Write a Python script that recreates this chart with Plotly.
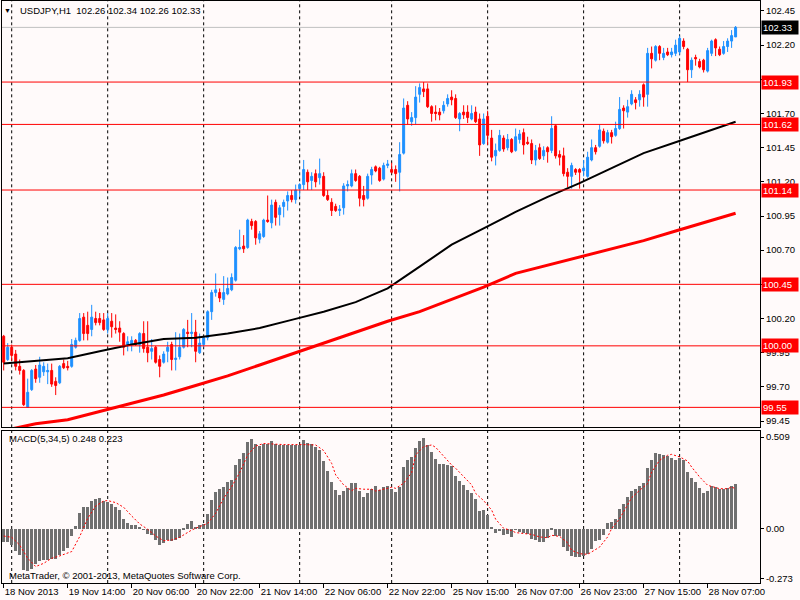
import plotly.graph_objects as go

# USDJPY H1 candles, bar 0 .. bar 183
bars = list(range(184))

open_ = [100.07, 99.90, 99.99, 99.94, 99.85, 99.82, 99.55, 99.68, 99.83, 99.77,
         99.81, 99.81, 99.82, 99.74, 99.73, 99.87, 99.85, 99.85, 99.99, 100.04,
         100.21, 100.15, 100.12, 100.20, 100.20, 100.19, 100.12, 100.18, 100.13, 100.13,
         100.09, 100.01, 100.01, 100.04, 100.01, 100.09, 99.99, 99.96, 99.99, 99.90,
         99.88, 99.96, 100.01, 99.90, 99.92, 99.99, 100.10, 100.09, 100.10, 99.95,
         100.01, 100.06, 100.25, 100.39, 100.39, 100.34, 100.38, 100.41, 100.48, 100.71,
         100.73, 100.72, 100.91, 100.91, 100.78, 100.80, 100.92, 100.90, 101.05, 100.96,
         101.02, 101.06, 101.10, 101.07, 101.15, 101.18, 101.27, 101.21, 101.26, 101.23,
         101.24, 101.10, 101.05, 101.02, 100.99, 101.01, 101.17, 101.17, 101.26, 101.24,
         101.10, 101.08, 101.25, 101.31, 101.30, 101.22, 101.32, 101.29, 101.29, 101.27,
         101.41, 101.76, 101.64, 101.67, 101.84, 101.88, 101.88, 101.75, 101.71, 101.71,
         101.72, 101.77, 101.82, 101.81, 101.66, 101.71, 101.71, 101.66, 101.71, 101.66,
         101.48, 101.68, 101.52, 101.39, 101.43, 101.52, 101.45, 101.51, 101.43, 101.51,
         101.56, 101.49, 101.48, 101.36, 101.45, 101.39, 101.45, 101.43, 101.61, 101.40,
         101.39, 101.27, 101.24, 101.29, 101.29, 101.28, 101.24, 101.36, 101.45, 101.46,
         101.57, 101.49, 101.56, 101.54, 101.59, 101.74, 101.71, 101.77, 101.80, 101.80,
         101.91, 101.84, 102.14, 102.09, 102.19, 102.11, 102.15, 102.13, 102.14, 102.15,
         102.23, 102.17, 102.02, 102.11, 102.08, 102.09, 102.01, 102.14, 102.24, 102.17,
         102.14, 102.19, 102.23, 102.26]

high = [100.08, 100.02, 100.01, 99.97, 99.90, 99.83, 99.76, 99.83, 99.86, 99.92,
        99.88, 99.87, 99.87, 99.77, 99.86, 99.90, 99.89, 100.05, 100.06, 100.24,
        100.24, 100.25, 100.30, 100.25, 100.24, 100.24, 100.24, 100.24, 100.23, 100.18,
        100.10, 100.07, 100.07, 100.05, 100.10, 100.18, 100.18, 100.05, 100.00, 99.93,
        99.96, 100.03, 100.03, 100.10, 100.09, 100.13, 100.19, 100.24, 100.19, 100.09,
        100.07, 100.26, 100.41, 100.53, 100.42, 100.51, 100.50, 100.53, 100.73, 100.85,
        100.81, 100.93, 100.93, 100.92, 100.84, 100.93, 101.10, 101.07, 101.07, 101.03,
        101.07, 101.13, 101.14, 101.18, 101.19, 101.36, 101.29, 101.27, 101.29, 101.37,
        101.27, 101.14, 101.08, 101.04, 101.03, 101.19, 101.21, 101.29, 101.29, 101.25,
        101.17, 101.26, 101.31, 101.32, 101.31, 101.34, 101.36, 101.34, 101.32, 101.49,
        101.81, 101.79, 101.71, 101.90, 101.92, 101.93, 101.92, 101.76, 101.76, 101.74,
        101.79, 101.84, 101.87, 101.84, 101.71, 101.76, 101.76, 101.76, 101.75, 101.70,
        101.70, 101.72, 101.58, 101.48, 101.58, 101.54, 101.55, 101.52, 101.59, 101.58,
        101.59, 101.53, 101.51, 101.47, 101.48, 101.46, 101.46, 101.68, 101.62, 101.43,
        101.45, 101.30, 101.34, 101.30, 101.30, 101.36, 101.42, 101.51, 101.47, 101.62,
        101.59, 101.58, 101.58, 101.64, 101.82, 101.76, 101.80, 101.87, 101.82, 101.87,
        101.92, 102.18, 102.19, 102.20, 102.20, 102.18, 102.18, 102.18, 102.24, 102.27,
        102.25, 102.18, 102.11, 102.13, 102.10, 102.10, 102.18, 102.24, 102.25, 102.19,
        102.23, 102.25, 102.31, 102.34]

low = [99.82, 99.89, 99.89, 99.82, 99.79, 99.56, 99.55, 99.67, 99.73, 99.73,
       99.78, 99.72, 99.70, 99.64, 99.72, 99.83, 99.82, 99.84, 99.98, 100.03,
       100.04, 100.04, 100.07, 100.15, 100.15, 100.11, 100.09, 100.06, 100.09, 100.03,
       99.93, 99.96, 99.96, 100.00, 99.95, 99.95, 99.88, 99.90, 99.87, 99.77,
       99.87, 99.88, 99.82, 99.82, 99.90, 99.98, 99.99, 99.99, 99.88, 99.94,
       99.99, 100.04, 100.19, 100.36, 100.32, 100.30, 100.37, 100.40, 100.47, 100.70,
       100.68, 100.71, 100.85, 100.74, 100.75, 100.79, 100.90, 100.86, 100.88, 100.88,
       100.94, 100.99, 101.05, 101.04, 101.09, 101.14, 101.14, 101.14, 101.16, 101.18,
       101.09, 101.06, 100.95, 100.98, 100.95, 100.96, 101.13, 101.16, 101.20, 101.02,
       101.02, 101.07, 101.18, 101.27, 101.20, 101.21, 101.30, 101.26, 101.20, 101.13,
       101.40, 101.62, 101.61, 101.62, 101.78, 101.82, 101.74, 101.64, 101.65, 101.65,
       101.70, 101.75, 101.76, 101.66, 101.57, 101.66, 101.63, 101.65, 101.63, 101.39,
       101.47, 101.47, 101.35, 101.32, 101.42, 101.42, 101.43, 101.41, 101.42, 101.48,
       101.40, 101.47, 101.33, 101.32, 101.36, 101.36, 101.34, 101.41, 101.37, 101.32,
       101.24, 101.16, 101.15, 101.25, 101.15, 101.24, 101.23, 101.35, 101.40, 101.45,
       101.48, 101.48, 101.48, 101.53, 101.58, 101.59, 101.67, 101.76, 101.73, 101.75,
       101.75, 101.75, 102.03, 102.08, 102.09, 102.09, 102.12, 102.11, 102.12, 102.13,
       102.17, 101.93, 101.96, 102.05, 102.03, 102.00, 102.00, 102.12, 102.12, 102.12,
       102.13, 102.15, 102.18, 102.26]

close = [99.88, 99.99, 99.93, 99.85, 99.82, 99.57, 99.66, 99.82, 99.76, 99.86,
         99.85, 99.82, 99.72, 99.71, 99.85, 99.84, 99.84, 100.01, 100.04, 100.20,
         100.09, 100.09, 100.21, 100.17, 100.17, 100.12, 100.20, 100.14, 100.12, 100.10,
         99.99, 100.03, 100.04, 100.01, 100.09, 99.98, 99.95, 99.98, 99.88, 99.85,
         99.94, 99.99, 99.90, 99.91, 99.99, 100.12, 100.09, 100.10, 99.96, 100.02,
         100.06, 100.25, 100.39, 100.41, 100.35, 100.39, 100.42, 100.50, 100.72, 100.72,
         100.71, 100.92, 100.88, 100.79, 100.82, 100.92, 100.91, 101.03, 100.94, 101.01,
         101.05, 101.10, 101.07, 101.14, 101.18, 101.29, 101.20, 101.24, 101.20, 101.26,
         101.10, 101.07, 100.99, 100.99, 101.00, 101.17, 101.18, 101.26, 101.21, 101.08,
         101.07, 101.24, 101.29, 101.28, 101.21, 101.32, 101.33, 101.27, 101.26, 101.40,
         101.74, 101.66, 101.67, 101.82, 101.89, 101.86, 101.75, 101.70, 101.70, 101.69,
         101.76, 101.81, 101.80, 101.67, 101.70, 101.69, 101.67, 101.70, 101.64, 101.47,
         101.66, 101.54, 101.38, 101.43, 101.54, 101.44, 101.51, 101.42, 101.53, 101.55,
         101.47, 101.48, 101.36, 101.43, 101.37, 101.43, 101.42, 101.59, 101.39, 101.38,
         101.26, 101.24, 101.32, 101.27, 101.27, 101.30, 101.38, 101.45, 101.42, 101.58,
         101.50, 101.56, 101.53, 101.59, 101.73, 101.72, 101.75, 101.84, 101.78, 101.84,
         101.82, 102.14, 102.10, 102.19, 102.14, 102.14, 102.13, 102.15, 102.20, 102.25,
         102.19, 102.02, 102.09, 102.10, 102.04, 102.02, 102.16, 102.23, 102.18, 102.13,
         102.19, 102.23, 102.27, 102.33]

# moving averages
ma_bars = [0, 8, 16, 24, 32, 40, 48, 56, 64, 72, 80, 88, 96, 104, 112, 120,
           128, 136, 144, 152, 160, 168, 176, 183]
ma_black = [99.87, 99.89, 99.91, 99.96, 100.01, 100.05, 100.06, 100.09, 100.13,
            100.19, 100.25, 100.32, 100.42, 100.58, 100.74, 100.86, 100.98,
            101.09, 101.19, 101.30, 101.41, 101.49, 101.57, 101.64]
ma_red = [99.38, 99.43, 99.46, 99.52, 99.58, 99.64, 99.71, 99.78, 99.86, 99.94,
          100.02, 100.10, 100.18, 100.25, 100.34, 100.43, 100.53, 100.59, 100.65,
          100.71, 100.77, 100.84, 100.91, 100.97]

levels = [101.93, 101.62, 101.14, 100.45, 100.00, 99.55]
bid = 102.33

# MACD(5,34,5)
macd = [-0.070, -0.070, -0.089, -0.120, -0.144, -0.227, -0.231, -0.218, -0.190, -0.175,
        -0.172, -0.168, -0.162, -0.162, -0.144, -0.120, -0.101, -0.039, 0.017, 0.090,
        0.124, 0.124, 0.157, 0.168, 0.173, 0.155, 0.151, 0.142, 0.124, 0.105,
        0.059, 0.035, 0.022, 0.022, 0.013, -0.003, -0.024, -0.033, -0.061, -0.089,
        -0.076, -0.061, -0.065, -0.061, -0.046, 0.004, 0.031, 0.046, 0.013, 0.022,
        0.031, 0.083, 0.161, 0.207, 0.225, 0.234, 0.262, 0.271, 0.354, 0.391,
        0.423, 0.482, 0.502, 0.470, 0.459, 0.474, 0.470, 0.487, 0.470, 0.465,
        0.465, 0.465, 0.465, 0.465, 0.465, 0.493, 0.478, 0.470, 0.456, 0.437,
        0.378, 0.323, 0.262, 0.216, 0.188, 0.210, 0.231, 0.256, 0.256, 0.212,
        0.179, 0.201, 0.225, 0.238, 0.220, 0.234, 0.238, 0.225, 0.207, 0.234,
        0.345, 0.382, 0.400, 0.450, 0.487, 0.506, 0.469, 0.428, 0.391, 0.363,
        0.360, 0.354, 0.349, 0.295, 0.268, 0.244, 0.216, 0.201, 0.170, 0.101,
        0.109, 0.077, 0.013, -0.020, -0.011, -0.033, -0.028, -0.042, -0.002, -0.015,
        -0.020, -0.028, -0.055, -0.060, -0.071, -0.072, -0.048, 0.006, -0.035, -0.035,
        -0.100, -0.118, -0.146, -0.151, -0.151, -0.146, -0.137, -0.109, -0.063, -0.059,
        -0.030, 0.033, 0.039, 0.057, 0.113, 0.140, 0.181, 0.214, 0.223, 0.242,
        0.255, 0.339, 0.384, 0.423, 0.417, 0.413, 0.408, 0.395, 0.384, 0.395,
        0.384, 0.315, 0.284, 0.260, 0.229, 0.199, 0.214, 0.242, 0.232, 0.223,
        0.223, 0.229, 0.242, 0.248]

sig_bars = [0, 2, 4, 6, 8, 10, 12, 14, 17, 19, 21, 23, 25, 26, 28, 30, 32, 34, 36, 38,
            40, 42, 44, 47, 49, 51, 53, 55, 57, 59, 61, 63, 65, 70, 75, 78, 80, 82, 83,
            85, 87, 88, 90, 92, 93, 95, 97, 98, 100, 102, 103, 105, 107, 108, 110, 112,
            113, 115, 117, 118, 120, 122, 123, 125, 127, 128, 130, 132, 134, 136, 137,
            139, 141, 142, 144, 146, 147, 149, 151, 152, 154, 156, 157, 159, 161, 162,
            164, 166, 167, 169, 171, 172, 174, 176, 177, 179, 181, 182, 183]
signal = [-0.039, -0.046, -0.089, -0.162, -0.208, -0.190, -0.162, -0.149, -0.125, -0.042,
          0.059, 0.127, 0.155, 0.157, 0.146, 0.120, 0.072, 0.028, -0.002, -0.039,
          -0.065, -0.061, -0.046, -0.006, 0.013, 0.031, 0.087, 0.170, 0.234, 0.312,
          0.410, 0.459, 0.473, 0.467, 0.467, 0.465, 0.434, 0.363, 0.299, 0.244,
          0.212, 0.225, 0.220, 0.220, 0.210, 0.220, 0.231, 0.225, 0.253, 0.312,
          0.410, 0.456, 0.465, 0.452, 0.400, 0.354, 0.336, 0.290, 0.244, 0.197,
          0.157, 0.105, 0.054, 0.004, -0.009, -0.020, -0.024, -0.030, -0.044, -0.048,
          -0.035, -0.041, -0.077, -0.118, -0.137, -0.140, -0.127, -0.100, -0.044, 0.002,
          0.057, 0.131, 0.173, 0.214, 0.251, 0.315, 0.380, 0.408, 0.413, 0.399,
          0.376, 0.343, 0.288, 0.242, 0.236, 0.223, 0.223, 0.232, 0.223]

time_bars = [0, 16, 32, 48, 64, 80, 96, 112, 128, 144, 160, 176]
time_labels = ["18 Nov 2013", "19 Nov 14:00", "20 Nov 06:00", "20 Nov 22:00",
               "21 Nov 14:00", "22 Nov 06:00", "22 Nov 22:00", "25 Nov 15:00",
               "26 Nov 07:00", "26 Nov 23:00", "27 Nov 15:00", "28 Nov 07:00"]
grid_bars = [2, 26, 50, 74, 97, 121, 145, 169]
price_ticks = [99.45, 99.70, 99.95, 100.20, 100.45, 100.70, 100.95, 101.20,
               101.45, 101.70, 101.95, 102.20, 102.45]
# the 100.45 scale label sits exactly under its level box
price_labels = ["" if t == 100.45 else f"{t:.2f}" for t in price_ticks]

BLUE = "#1E90FF"
RED = "#FF0000"
BG = "#FFFAFA"
FONT = "Liberation Sans"

fig = go.Figure()

fig.add_trace(go.Scatter(x=ma_bars, y=ma_red, mode="lines",
                         line=dict(color=RED, width=3), xaxis="x", yaxis="y"))
fig.add_trace(go.Scatter(x=ma_bars, y=ma_black, mode="lines",
                         line=dict(color="black", width=2), xaxis="x", yaxis="y"))
fig.add_trace(go.Candlestick(
    x=bars, open=open_, high=high, low=low, close=close,
    increasing=dict(line=dict(color=BLUE, width=1), fillcolor=BLUE),
    decreasing=dict(line=dict(color=RED, width=1), fillcolor=RED),
    whiskerwidth=0, xaxis="x", yaxis="y"))

fig.add_trace(go.Bar(x=bars, y=macd, marker=dict(color="#707070", line_width=0),
                     width=0.72, xaxis="x2", yaxis="y2"))
fig.add_trace(go.Scatter(x=sig_bars, y=signal, mode="lines",
                         line=dict(color=RED, width=1, dash="2px,2px"),
                         xaxis="x2", yaxis="y2"))

shapes = []
for b in grid_bars:
    for yr in ["y domain", "y2 domain"]:
        shapes.append(dict(type="line", xref="x", yref=yr, x0=b, x1=b, y0=0, y1=1,
                           line=dict(color="black", width=1, dash="3px,3px"),
                           layer="below"))
shapes.append(dict(type="line", xref="x domain", yref="y", x0=0, x1=1, y0=bid, y1=bid,
                   line=dict(color="#C0C0C0", width=1), layer="below"))
for lv in levels:
    shapes.append(dict(type="line", xref="x domain", yref="y", x0=0, x1=1, y0=lv, y1=lv,
                       line=dict(color=RED, width=1), layer="above"))

annotations = []
for lv in levels:
    annotations.append(dict(xref="paper", yref="y", x=1, y=lv, xanchor="left",
                            yanchor="middle", text=f"{lv:.2f}", showarrow=False,
                            bgcolor=RED, font=dict(color="white", size=9.5, family=FONT),
                            width=34, height=11, align="left", borderpad=1, xshift=1))
annotations.append(dict(xref="paper", yref="y", x=1, y=bid, xanchor="left",
                        yanchor="middle", text=f"{bid:.2f}", showarrow=False,
                        bgcolor="black", font=dict(color="white", size=9.5, family=FONT),
                        width=34, height=11, align="left", borderpad=1, xshift=1))
annotations.append(dict(xref="paper", yref="paper", x=0.0075, y=0.984, xanchor="center",
                        yanchor="middle", text="▼", showarrow=False,
                        font=dict(color="black", size=7, family=FONT)))
annotations.append(dict(xref="paper", yref="paper", x=0.021, y=0.984, xanchor="left",
                        yanchor="middle", showarrow=False,
                        text="USDJPY,H1  102.26 102.34 102.26 102.33",
                        font=dict(color="black", size=9.5, family=FONT)))
annotations.append(dict(xref="paper", yref="paper", x=0.0065, y=0.2475, xanchor="left",
                        yanchor="middle", showarrow=False,
                        text="MACD(5,34,5) 0.248 0.223",
                        font=dict(color="black", size=9.5, family=FONT)))
annotations.append(dict(xref="paper", yref="paper", x=0.0065, y=0.0135, xanchor="left",
                        yanchor="middle", showarrow=False,
                        text="MetaTrader, © 2001-2013, MetaQuotes Software Corp.",
                        font=dict(color="black", size=9.5, family=FONT)))

xr = [-0.425, 189.1]
axis_common = dict(showgrid=False, zeroline=False, showline=True, linecolor="black",
                   linewidth=1, mirror=True, automargin=False)

fig.update_layout(
    width=800, height=600,
    margin=dict(l=2, r=40, t=1, b=17, autoexpand=False),
    paper_bgcolor=BG, plot_bgcolor=BG,
    showlegend=False,
    bargap=0,
    font=dict(family=FONT, size=9.5, color="black"),
    shapes=shapes,
    annotations=annotations,
    xaxis=dict(range=xr, domain=[0, 1], anchor="y", showticklabels=False, ticks="",
               rangeslider=dict(visible=False), **axis_common),
    yaxis=dict(range=[99.404, 102.523], domain=[0.2675, 1], anchor="x", side="right",
               tickvals=price_ticks, ticktext=price_labels, ticks="outside", ticklen=3,
               tickcolor="black", **axis_common),
    xaxis2=dict(range=xr, domain=[0, 1], anchor="y2", tickvals=time_bars,
                ticktext=time_labels, ticks="outside", ticklen=4, tickcolor="black",
                tickangle=0, ticklabelposition="outside right", **axis_common),
    yaxis2=dict(range=[-0.299, 0.544], domain=[0, 0.2617], anchor="x2", side="right",
                tickvals=[0.509, 0.0, -0.273], ticktext=["0.509", "0.00", "-0.273"],
                ticks="outside", ticklen=3, tickcolor="black", **axis_common),
)

fig.write_html("out.html", config={"displayModeBar": False},
               post_script="document.body.style.margin='0';"
                           "document.body.style.overflow='hidden';")
